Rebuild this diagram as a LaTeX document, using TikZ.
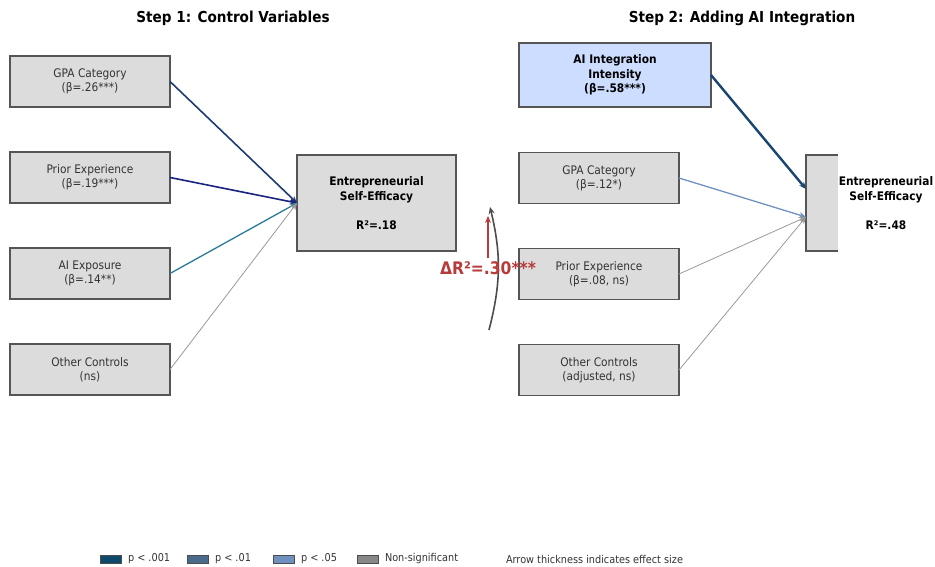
\documentclass[tikz,border=0pt]{standalone}
\usepackage{fontspec}
\setmainfont[FakeStretch=0.9]{DejaVu Sans}
\usetikzlibrary{arrows.meta,positioning}
\definecolor{boxgray}{HTML}{DCDCDC}
\definecolor{boxedge}{HTML}{555555}
\definecolor{aiblue}{HTML}{CCDDFF}
\definecolor{pthree}{HTML}{0D4A6B}
\definecolor{ptwo}{HTML}{4A6B8C}
\definecolor{pone}{HTML}{7090C0}
\definecolor{nsgray}{HTML}{888888}
\definecolor{navyA}{HTML}{1F3B73}
\definecolor{navyB}{HTML}{1A237E}
\definecolor{tealA}{HTML}{2A7A9A}
\definecolor{navyC}{HTML}{1A4571}
\definecolor{steelA}{HTML}{6F92BE}
\definecolor{lineGray}{HTML}{999999}
\definecolor{deltaRed}{HTML}{B83A3A}
\tikzset{
  >={Stealth[length=7pt,width=6pt]},
  every node/.style={inner sep=0pt,outer sep=0pt}
}
\tikzset{predbox/.style={
    draw=boxedge,
    line width=1.3pt,
    fill=boxgray,
    text=black!80,
    minimum width=160pt,
    minimum height=51pt,
    align=center,
    font=\fontsize{11.8}{14}\selectfont
  }}
\tikzset{outbox/.style={
    draw=boxedge,
    line width=1.3pt,
    fill=boxgray,
    minimum width=159pt,
    minimum height=96pt,
    align=center,
    font=\fontsize{11.8}{14.5}\selectfont\bfseries
  }}
\tikzset{steptitle/.style={font=\fontsize{15.1}{17}\selectfont\bfseries}}
\tikzset{legpatch/.style={
    draw=black!70,
    line width=0.6pt,
    fill=#1,
    minimum width=21pt,
    minimum height=8pt
  }}
\tikzset{legtext/.style={font=\fontsize{10.8}{12}\selectfont,text=black!80,anchor=west}}

\begin{document}
\begin{tikzpicture}[x=1pt,y=-1pt]
  \useasboundingbox (0,0) rectangle (935,567);

  % step 1
  \node (Title_one) [steptitle] at (233,18) {Step 1: Control Variables};

  \node (S1_gpa) [predbox] at (90,81.5) {GPA Category\\(β=.26***)};
  \node (S1_prior) [predbox,below=45pt of S1_gpa] {Prior Experience\\(β=.19***)};
  \node (S1_exposure) [predbox,below=45pt of S1_prior] {AI Exposure\\(β=.14**)};
  \node (S1_other) [predbox,below=45pt of S1_exposure] {Other Controls\\(ns)};

  \node (S1_ese) [outbox] at (376.5,203) {Entrepreneurial\\Self-Efficacy\\[14.5pt]R²=.18};

  \draw [->,navyA,line width=1.6pt] (S1_gpa.east) -- (S1_ese.west);
  \draw [->,navyB,line width=1.6pt] (S1_prior.east) -- (S1_ese.west);
  \draw [->,tealA,line width=1.3pt] (S1_exposure.east) -- (S1_ese.west);
  \draw [->,lineGray,line width=0.8pt] (S1_other.east) -- (S1_ese.west);

  % step 2
  \node (Title_two) [steptitle] at (742,18) {Step 2: Adding AI Integration};

  \node (S2_ai) [predbox,fill=aiblue,text=black,minimum width=192pt,minimum height=64pt,
    font=\fontsize{11.8}{14.5}\selectfont\bfseries] at (615,75) {AI Integration\\Intensity\\(β=.58***)};
  \node (S2_gpa) [predbox] at (599,178) {GPA Category\\(β=.12*)};
  \node (S2_prior) [predbox,below=45pt of S2_gpa] {Prior Experience\\(β=.08, ns)};
  \node (S2_other) [predbox,below=45pt of S2_prior] {Other Controls\\(adjusted, ns)};

  % clipped outcome box on the right edge
  \node (S2_ese_box) [fill=boxgray,minimum width=32pt,minimum height=96pt] at (822,203) {};
  \draw [boxedge,line width=1.3pt] (S2_ese_box.north east) -- (S2_ese_box.north west)
  -- (S2_ese_box.south west) -- (S2_ese_box.south east);
  \node (S2_ese) [align=center,font=\fontsize{11.8}{14.5}\selectfont\bfseries] at (886,203)
  {Entrepreneurial\\Self-Efficacy\\[14.5pt]R²=.48};

  \draw [->,navyC,line width=2.4pt] (S2_ai.east) -- ([yshift=14pt] S2_ese_box.west);
  \draw [->,steelA,line width=1.3pt] (S2_gpa.east) -- ([yshift=-14pt] S2_ese_box.west);
  \draw [->,lineGray,line width=0.8pt] (S2_prior.east) -- ([yshift=-14pt] S2_ese_box.west);
  \draw [->,lineGray,line width=0.8pt] (S2_other.east) -- ([yshift=-14pt] S2_ese_box.west);

  % change in R squared
  \coordinate (dR_from) at (489,330);
  \coordinate (dR_to) at (490,207);
  \draw [->,black!70,line width=1.6pt] (dR_from) to[bend right=14] (dR_to);
  \node (dR_label) [deltaRed,font=\fontsize{17.3}{20}\selectfont\bfseries] at (488,268) {ΔR²=.30***};
  \coordinate (dR_tip) at (488,216);
  \draw [->,deltaRed,line width=1.6pt] ([yshift=3pt] dR_label.north) -- (dR_tip);

  % legend
  \node (Leg_three) [legpatch=pthree] at (110.5,559) {};
  \node (Leg_three_t) [legtext,right=7pt of Leg_three] {p < .001};
  \node (Leg_two) [legpatch=ptwo] at (197.5,559) {};
  \node (Leg_two_t) [legtext,right=7pt of Leg_two] {p < .01};
  \node (Leg_one) [legpatch=pone] at (283.5,559) {};
  \node (Leg_one_t) [legtext,right=7pt of Leg_one] {p < .05};
  \node (Leg_ns) [legpatch=nsgray] at (367.5,559) {};
  \node (Leg_ns_t) [legtext,right=7pt of Leg_ns] {Non-significant};
  \node (Leg_note) [legtext] at (506,559) {Arrow thickness indicates effect size};
\end{tikzpicture}
\end{document}
